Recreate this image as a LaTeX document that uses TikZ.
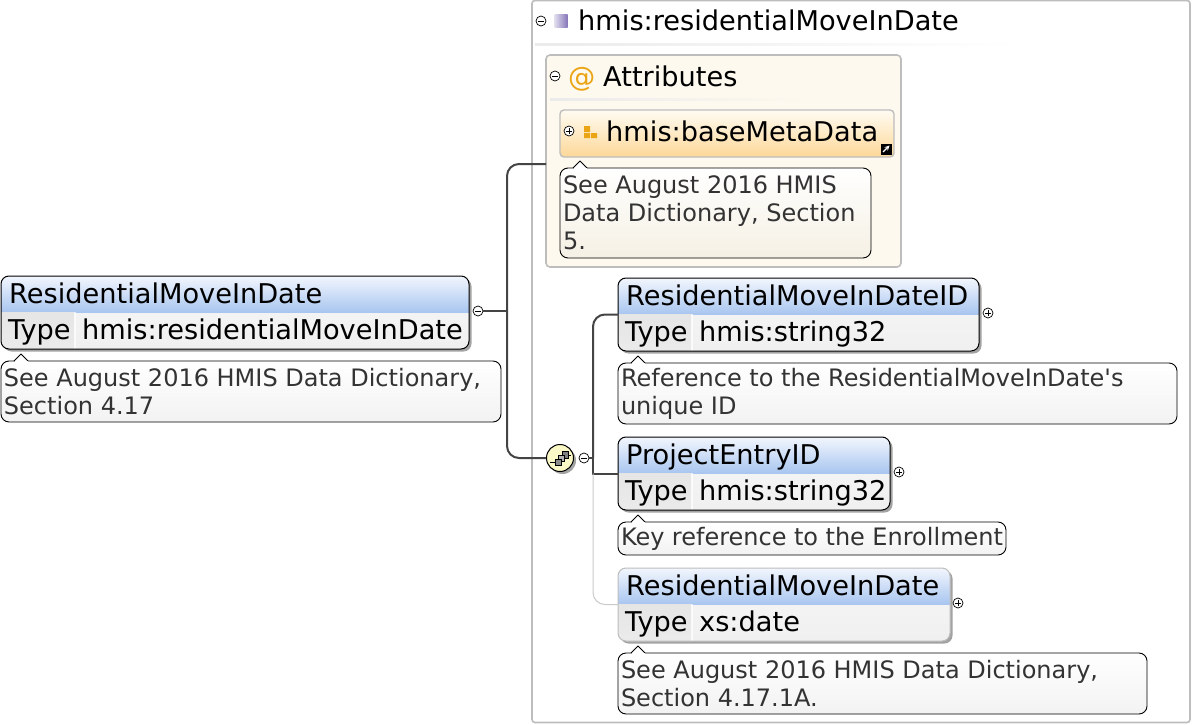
\documentclass[tikz,border=0pt]{standalone}
\usepackage{fontspec}
\setmainfont{DejaVu Sans}
\usetikzlibrary{shadows}

\definecolor{framegray}{HTML}{BDBDBD}
\definecolor{linedark}{HTML}{444444}
\definecolor{headtop}{HTML}{F2F6FD}
\definecolor{headbot}{HTML}{A9C6F0}
\definecolor{attrfill}{HTML}{FDF9EE}
\definecolor{attrtop}{HTML}{FFFBF2}
\definecolor{attrbot}{HTML}{FDD898}
\definecolor{attrnote}{HTML}{F5F0E4}
\definecolor{iconorange}{HTML}{EBA414}
\definecolor{iconviolet}{HTML}{8576B8}
\definecolor{notetext}{HTML}{333333}
\definecolor{seqfill}{HTML}{FBF8C8}

\tikzset{
	bigtext/.style={anchor=base west, inner sep=0pt, font=\fontsize{27.2}{30}\selectfont},
	elembody/.style={anchor=north west, outer sep=0pt, rounded corners=8pt, minimum height=73pt, top color=black!3, bottom color=black!6, drop shadow={shadow xshift=2.5pt, shadow yshift=-2.5pt, fill=black!60, opacity=.6}},
	elemline/.style={draw=black, line width=1pt},
	elemoptional/.style={draw=framegray, line width=1pt},
	notebox/.style={draw=black, line width=.9pt, anchor=north west, outer sep=0pt, inner xsep=3pt, inner ysep=0pt, rounded corners=8pt, align=flush left, text=notetext, top color=white, bottom color=black!5, font=\fontsize{24}{28}\selectfont},
	notetip/.style={draw=black, line width=.9pt, fill=white, line join=round},
	expander/.style={circle, draw=black, line width=.7pt, fill=white, minimum size=10pt, inner sep=0pt},
	expminus/.style={expander, path picture={\draw[line width=.7pt] ([xshift=-3pt]path picture bounding box.center) -- ([xshift=3pt]path picture bounding box.center);}},
	expplus/.style={expander, path picture={\draw[line width=.7pt] ([xshift=-3pt]path picture bounding box.center) -- ([xshift=3pt]path picture bounding box.center) ([yshift=-3pt]path picture bounding box.center) -- ([yshift=3pt]path picture bounding box.center);}},
	conn/.style={draw=linedark, line width=2pt, rounded corners=12pt},
	connlight/.style={draw=framegray!80, line width=1pt, rounded corners=12pt},
}

\newcommand{\elembox}[7][elemline]{
	\node[elembody, minimum width=#5] (#2) at (#3,#4) {};
	\begin{scope}
		\clip[rounded corners=8pt] (#2.north west) rectangle (#2.south east);
		\path[top color=headtop, bottom color=headbot] (#2.north west) rectangle ([yshift=-36pt]#2.north east);
		\path[top color=black!10, bottom color=black!8] ([yshift=-36pt]#2.north west) rectangle ([xshift=73pt]#2.south west);
		\fill[white, opacity=.7] ([yshift=-36pt,xshift=73pt]#2.north west) rectangle ([xshift=74.5pt]#2.south west);
	\end{scope}
	\draw[#1, rounded corners=8pt] (#2.north west) rectangle (#2.south east);
	\node[bigtext] (#2title) at ([xshift=8pt,yshift=-27pt]#2.north west) {#6};
	\node[bigtext] (#2type) at ([xshift=7pt,yshift=-63pt]#2.north west) {Type};
	\node[bigtext] (#2value) at ([xshift=81pt,yshift=-63pt]#2.north west) {#7};
}

\newcommand{\notebubble}[7][black!5]{
	\node[notebox, bottom color=#1, minimum width=#5, text width=#5-6pt, minimum height=#6] (#2) at (#3,#4) {#7};
	\draw[notetip] ([xshift=13pt]#2.north west) -- ([xshift=20pt,yshift=7pt]#2.north west) -- ([xshift=27pt]#2.north west);
	\fill[white] ([xshift=13.5pt,yshift=-.5pt]#2.north west) rectangle ([xshift=26.5pt,yshift=.5pt]#2.north west);
}

\begin{document}
\begin{tikzpicture}[x=1pt,y=-1pt]
	\useasboundingbox (0,0) rectangle (1192,725);

	\draw[framegray, line width=1.6pt, rounded corners=3pt, fill=white] (532,0.5) rectangle (1190,722.5);
	\node[expminus] (typeexp) at (541,21) {};
	\node[left color=iconviolet!25, right color=iconviolet, minimum size=13pt, inner sep=0pt] (typeicon) at (561,21) {};
	\node[bigtext] (typename) at (578,31) {hmis:residentialMoveInDate};
	\path[left color=black!8, right color=white] (535,43.5) rectangle (1020,45.5);

	\node[draw=framegray, line width=1.6pt, fill=attrfill, anchor=north west, outer sep=0pt, minimum width=355pt, minimum height=212pt, rounded corners=4pt] (attrpanel) at (546,55) {};
	\node[expminus] (attrexp) at (555,76) {};
	\node[bigtext, text=iconorange] (attrat) at (568,87) {@};
	\node[bigtext] (attrname) at (603,86) {Attributes};
	\path[left color=black!8, right color=attrfill] (550,98.5) rectangle (810,100.5);

	\node[draw=framegray, line width=1.4pt, anchor=north west, outer sep=0pt, minimum width=334pt, minimum height=47pt, rounded corners=4pt, top color=attrtop, bottom color=attrbot] (metabox) at (560,110) {};
	\node[expplus] (metaexp) at (569,131) {};
	\fill[iconorange] (584,126) rectangle (590,132) (584,133) rectangle (590,138) (591,133) rectangle (597,138);
	\node[bigtext] (metaname) at (606,141) {hmis:baseMetaData};
	\node[fill=black, minimum size=11pt, inner sep=0pt] (metalink) at (886,149) {};
	\draw[white, line width=1.2pt, -stealth] ([shift={(-3pt,-3pt)}]metalink.center) -- ([shift={(3.5pt,3.5pt)}]metalink.center);
	\notebubble[attrnote]{metanote}{560}{168}{311}{90}{See August 2016 HMIS\\Data Dictionary, Section\\5.}

	\elembox{rootbox}{1}{276}{468}{ResidentialMoveInDate}{hmis:residentialMoveInDate}
	\node[expminus] (rootexp) at (478,311) {};
	\notebubble{rootnote}{1}{361}{500}{61}{See August 2016 HMIS Data Dictionary,\\Section 4.17}

	\node[circle, draw=black, line width=1pt, fill=seqfill, minimum size=27pt, inner sep=0pt, drop shadow={shadow xshift=2.5pt, shadow yshift=-2.5pt, fill=black!60, opacity=.6}] (seqicon) at (560,458) {};
	\draw[black, line width=1pt] (550,462) -- (556,462) (567,455) -- (571,455);
	\draw[black, fill=black!50, line width=.7pt] (562,451) rectangle (568,458);
	\draw[black, fill=black!30, line width=.7pt] (558,455) rectangle (564,461);
	\draw[black, fill=black!45, line width=.7pt] (555,459) rectangle (561,465);
	\node[expminus] (seqexp) at (584,458) {};

	\elembox{idbox}{618}{278}{361}{ResidentialMoveInDateID}{hmis:string32}
	\node[expplus] (idexp) at (988,313) {};
	\notebubble{idnote}{618}{363}{559}{61}{Reference to the ResidentialMoveInDate\textquotesingle s\\unique ID}

	\elembox{entrybox}{618}{437}{272}{ProjectEntryID}{hmis:string32}
	\node[expplus] (entryexp) at (899,472) {};
	\notebubble{entrynote}{618}{522}{388}{33}{Key reference to the Enrollment}

	\elembox[elemoptional]{datebox}{618}{568}{332}{ResidentialMoveInDate}{xs:date}
	\node[expplus] (dateexp) at (958,603) {};
	\notebubble{datenote}{618}{653}{529}{61}{See August 2016 HMIS Data Dictionary,\\Section 4.17.1A.}

	\coordinate (attrjoin) at (546,164);
	\coordinate (rootspine) at (507,311);
	\coordinate (seqspine) at (593,458);
	\draw[conn] (rootexp) -- (rootspine);
	\draw[conn] (attrjoin) -| (rootspine) |- (seqicon.west);
	\draw[conn] (seqexp) -- (seqspine);
	\draw[conn] (idbox.west) -| (seqspine);
	\draw[conn, rounded corners=0pt] (seqspine) |- (entrybox.west);
	\draw[connlight] (entrybox.west -| seqspine) |- (datebox.west);
\end{tikzpicture}
\end{document}
